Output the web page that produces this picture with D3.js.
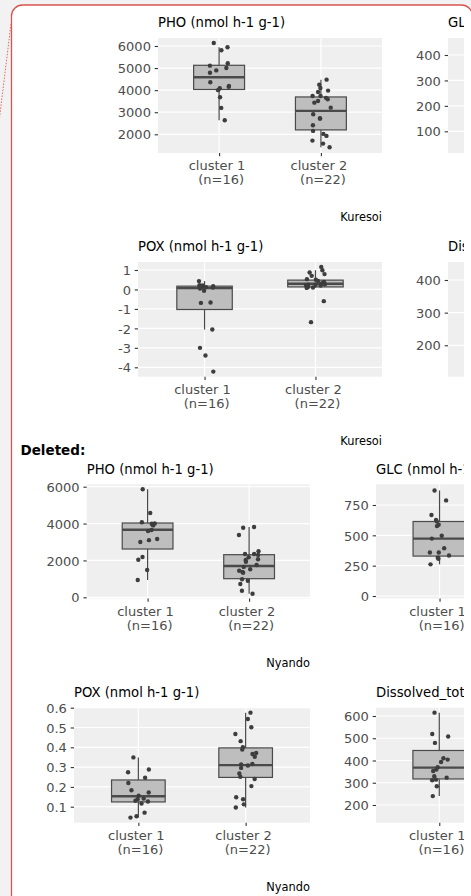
<!DOCTYPE html>
<html>
<head>
<meta charset="utf-8">
<script src="https://cdnjs.cloudflare.com/ajax/libs/d3/7.8.5/d3.min.js"></script>
<style>
    html, body { margin: 0; padding: 0; background: #f2f2f2; }
    svg { display: block; font-family: "DejaVu Sans", sans-serif; }
    text { white-space: pre; }
</style>
</head>
<body>
<svg id="page" width="471" height="896"></svg>
<script>
const clusters = ["cluster 1", "cluster 2"];
const clusterN = [16, 22];

// box stats are [q1, median, q3, lower whisker, upper whisker]

// Kuresoi - PHO
const phoKuresoiC1 = [6136, 5940, 5805, 5217, 5110, 5000, 4895, 4790, 4357, 4190, 4150, 4085, 4000, 3678, 3195, 2638];
const phoKuresoiC2 = [4475, 4250, 4100, 3980, 3919, 3738, 3738, 3650, 3588, 3511, 3434, 3208, 2909, 2729, 2710, 2412, 2154, 2018, 1928, 1715, 1579, 1416];
const phoKuresoiBoxes = [[4030, 4584, 5126, 2638, 5940], [2199, 3059, 3692, 1416, 4475]];
const phoKuresoiTicks = [2000, 3000, 4000, 5000, 6000];
const phoKuresoiLimits = [1153, 6362];

// Kuresoi - GLC (only the axis is on the page)
const glcKuresoiTicks = [100, 200, 300, 400];
const glcKuresoiLimits = [14.7, 466.8];

// Kuresoi - POX
const poxKuresoiC1 = [0.43, 0.22, 0.2, 0.17, 0.15, 0.13, 0.12, 0.1, 0.05, -0.07, -0.67, -0.69, -2.06, -3.0, -3.39, -4.22];
const poxKuresoiC2 = [1.16, 0.99, 0.87, 0.79, 0.7, 0.53, 0.5, 0.44, 0.39, 0.35, 0.3, 0.27, 0.25, 0.24, 0.2, 0.15, 0.13, 0.1, 0.08, 0.2, -0.6, -1.68];
const poxKuresoiBoxes = [[-1.03, 0.07, 0.17, -2.06, 0.43], [0.13, 0.29, 0.48, 0.08, 0.99]];
const poxKuresoiTicks = [-4, -3, -2, -1, 0, 1];
const poxKuresoiLimits = [-4.483, 1.411];

// Kuresoi - Dissolved (only the axis is on the page)
const disKuresoiTicks = [200, 300, 400];
const disKuresoiLimits = [103.8, 455.1];

// Nyando - PHO
const phoNyandoC1 = [5860, 4574, 4069, 4000, 3994, 3960, 3900, 3650, 3600, 3163, 3100, 3000, 2187, 2040, 1481, 939];
const phoNyandoC2 = [3814, 3777, 3380, 2495, 2350, 2350, 2300, 2170, 2062, 2024, 1932, 1753, 1650, 1519, 1443, 1373, 1335, 977, 901, 722, 358, 195];
const phoNyandoBoxes = [[2620, 3668, 4030, 939, 5860], [1010, 1698, 2312, 195, 3814]];
const phoNyandoTicks = [0, 2000, 4000, 6000];
const phoNyandoLimits = [-65, 6130];

// Nyando - GLC
const glcNyandoC1 = [870, 788, 668, 627, 615, 587, 576, 497, 473, 394, 359, 359, 334, 315, 307, 261];
const glcNyandoBoxes = [[329, 473, 614, 261, 870]];
const glcNyandoTicks = [0, 250, 500, 750];
const glcNyandoLimits = [-20.6, 920.6];

// Nyando - POX
const poxNyandoC1 = [0.349, 0.288, 0.274, 0.246, 0.22, 0.183, 0.172, 0.155, 0.141, 0.138, 0.13, 0.126, 0.116, 0.07, 0.052, 0.045];
const poxNyandoC2 = [0.575, 0.543, 0.501, 0.467, 0.431, 0.138, 0.401, 0.389, 0.371, 0.366, 0.352, 0.316, 0.314, 0.308, 0.296, 0.268, 0.251, 0.24, 0.204, 0.148, 0.112, 0.096];
const poxNyandoBoxes = [[0.124, 0.153, 0.235, 0.045, 0.349], [0.248, 0.31, 0.397, 0.096, 0.575]];
const poxNyandoTicks = [0.1, 0.2, 0.3, 0.4, 0.5, 0.6];
const poxNyandoLimits = [0.0192, 0.6];

// Nyando - Dissolved
const disNyandoC1 = [615, 519, 508, 479, 410, 404, 393, 370, 359, 353, 329, 323, 314, 311, 284, 240];
const disNyandoBoxes = [[317, 368, 445, 240, 615]];
const disNyandoTicks = [200, 300, 400, 500, 600];
const disNyandoLimits = [120.4, 637.3];


let panels = [
    { title: "PHO (nmol h-1 g-1)", left: 158, right: 382, top: 38, bottom: 153, limits: phoKuresoiLimits, ticks: phoKuresoiTicks, points: [phoKuresoiC1, phoKuresoiC2], boxes: phoKuresoiBoxes, caption: "Kuresoi" },
    { title: "GLC (nmol h-1 g-1)", left: 448, right: 680, top: 38, bottom: 153, limits: glcKuresoiLimits, ticks: glcKuresoiTicks, points: [], boxes: [] },
    { title: "POX (nmol h-1 g-1)", left: 138, right: 382, top: 262, bottom: 376.7, limits: poxKuresoiLimits, ticks: poxKuresoiTicks, points: [poxKuresoiC1, poxKuresoiC2], boxes: poxKuresoiBoxes, caption: "Kuresoi" },
    { title: "Dissolved_total (mg kg-1)", left: 448, right: 680, top: 262, bottom: 376.7, limits: disKuresoiLimits, ticks: disKuresoiTicks, points: [], boxes: [] },
    { title: "PHO (nmol h-1 g-1)", left: 86.7, right: 310, top: 484.3, bottom: 598.5, limits: phoNyandoLimits, ticks: phoNyandoTicks, points: [phoNyandoC1, phoNyandoC2], boxes: phoNyandoBoxes, caption: "Nyando" },
    { title: "GLC (nmol h-1 g-1)", left: 376, right: 609, top: 484.3, bottom: 598.5, limits: glcNyandoLimits, ticks: glcNyandoTicks, points: [glcNyandoC1], boxes: glcNyandoBoxes },
    { title: "POX (nmol h-1 g-1)", left: 74, right: 310, top: 707.7, bottom: 822.7, limits: poxNyandoLimits, ticks: poxNyandoTicks, points: [poxNyandoC1, poxNyandoC2], boxes: poxNyandoBoxes, caption: "Nyando", format: d3.format(".1f") },
    { title: "Dissolved_total (mg kg-1)", left: 376, right: 608, top: 707.7, bottom: 822.7, limits: disNyandoLimits, ticks: disNyandoTicks, points: [disNyandoC1], boxes: disNyandoBoxes }
];

let svg = d3.select("#page");

// page / comment balloon frame
svg.append("rect")
    .attr("width", 471).attr("height", 896)
    .style("fill", "#f2f2f2");
svg.append("rect")
    .attr("x", 11.5).attr("y", 5)
    .attr("width", 461).attr("height", 1000)
    .attr("rx", 11)
    .style("fill", "white")
    .style("stroke", "#d9534f")
    .style("stroke-width", 1.3);
svg.append("line")
    .attr("x1", 11).attr("y1", 24).attr("x2", -1).attr("y2", 122)
    .style("stroke", "#e06666")
    .style("stroke-width", 1)
    .style("stroke-dasharray", "1.5,1.5");

// the embedded plots are cut a little before the balloon edge
svg.append("clipPath")
    .attr("id", "content-clip")
    .append("rect")
    .attr("x", 0).attr("y", 0)
    .attr("width", 464).attr("height", 896);

let content = svg.append("g").attr("clip-path", "url(#content-clip)");

content.append("text")
    .attr("x", 20.5).attr("y", 455)
    .style("font-weight", "bold")
    .style("font-size", "13.5px")
    .text("Deleted:");

const boxStroke = "#4a4a4a";

function drawPanel(p, seed) {
    let x = d3.scalePoint().domain(clusters).range([p.left, p.right]).padding(0.6);
    let y = d3.scaleLinear().domain(p.limits).range([p.bottom, p.top]);
    let step = x.step();
    let jitter = d3.randomUniform.source(d3.randomLcg(seed))(-0.1, 0.1);
    let fmt = p.format || String;
    // only clusters with data on the page get a label
    let shown = clusters.filter((c, i) => p.points[i] && p.points[i].length);

    let g = content.append("g");

    g.append("rect")
        .attr("x", p.left).attr("y", p.top)
        .attr("width", p.right - p.left).attr("height", p.bottom - p.top)
        .style("fill", "#efefef");

    g.selectAll(".hgrid")
        .data(p.ticks)
        .enter()
        .append("line")
        .attr("x1", p.left).attr("x2", p.right)
        .attr("y1", d => y(d)).attr("y2", d => y(d))
        .style("stroke", "white")
        .style("stroke-width", 1.2);

    g.selectAll(".vgrid")
        .data(clusters)
        .enter()
        .append("line")
        .attr("x1", d => x(d)).attr("x2", d => x(d))
        .attr("y1", p.top).attr("y2", p.bottom)
        .style("stroke", "white")
        .style("stroke-width", 1.2);

    // y axis
    let yAxis = g.append("g")
        .attr("transform", "translate(" + p.left + ",0)")
        .call(d3.axisLeft(y).tickValues(p.ticks).tickSize(3.3).tickPadding(3.8).tickFormat(fmt));
    yAxis.select(".domain").remove();
    yAxis.selectAll("line").style("stroke", "#333").style("stroke-width", 1.1);
    yAxis.selectAll("text")
        .attr("dy", "0.36em")
        .style("fill", "#4d4d4d")
        .style("font-size", "13px")
        .style("font-family", "DejaVu Sans");

    // x axis with two-line labels
    let xAxis = g.append("g")
        .attr("transform", "translate(0," + p.bottom + ")")
        .call(d3.axisBottom(x).tickValues(shown).tickSize(3.3).tickFormat(""));
    xAxis.select(".domain").remove();
    xAxis.selectAll("line").style("stroke", "#333").style("stroke-width", 1.1);

    let labels = g.selectAll(".xlab")
        .data(shown)
        .enter()
        .append("text")
        .attr("text-anchor", "middle")
        .style("fill", "#4d4d4d")
        .style("font-size", "13px");
    labels.append("tspan")
        .attr("x", d => x(d)).attr("y", p.bottom + 17)
        .text(d => d + " ");
    labels.append("tspan")
        .attr("x", d => x(d)).attr("y", p.bottom + 31)
        .text((d, i) => " (n=" + clusterN[clusters.indexOf(d)] + ")");

    // boxes
    let box = g.selectAll(".box")
        .data(p.boxes)
        .enter()
        .append("g");
    box.append("line")
        .attr("x1", (d, i) => x(clusters[i])).attr("x2", (d, i) => x(clusters[i]))
        .attr("y1", d => y(d[2])).attr("y2", d => y(d[4]))
        .style("stroke", boxStroke).style("stroke-width", 1.2);
    box.append("line")
        .attr("x1", (d, i) => x(clusters[i])).attr("x2", (d, i) => x(clusters[i]))
        .attr("y1", d => y(d[0])).attr("y2", d => y(d[3]))
        .style("stroke", boxStroke).style("stroke-width", 1.2);
    box.append("rect")
        .attr("x", (d, i) => x(clusters[i]) - step * 0.25)
        .attr("width", step * 0.5)
        .attr("y", d => y(d[2]))
        .attr("height", d => y(d[0]) - y(d[2]))
        .style("fill", "#bebebe")
        .style("stroke", boxStroke)
        .style("stroke-width", 1.2);
    box.append("line")
        .attr("x1", (d, i) => x(clusters[i]) - step * 0.25)
        .attr("x2", (d, i) => x(clusters[i]) + step * 0.25)
        .attr("y1", d => y(d[1])).attr("y2", d => y(d[1]))
        .style("stroke", boxStroke).style("stroke-width", 2.4);

    // jittered points
    let pts = [];
    p.points.forEach((vals, i) => vals.forEach(v => pts.push({ c: clusters[i], v: v, j: jitter() })));
    g.selectAll(".pt")
        .data(pts)
        .enter()
        .append("circle")
        .attr("cx", d => x(d.c) + d.j * step)
        .attr("cy", d => y(d.v))
        .attr("r", 2.2)
        .style("fill", "#3d3d3d");

    // title, left aligned on the panel
    g.append("text")
        .attr("x", p.left).attr("y", p.top - 10.7)
        .style("font-size", "13.2px")
        .style("fill", "black")
        .text(p.title);

    if (p.caption) {
        g.append("text")
            .attr("x", p.right).attr("y", p.bottom + 68.3)
            .attr("text-anchor", "end")
            .style("font-size", "11.4px")
            .style("fill", "black")
            .text(p.caption);
    }
}

panels.forEach((p, i) => drawPanel(p, 7 + i * 13));
</script>
</body>
</html>
